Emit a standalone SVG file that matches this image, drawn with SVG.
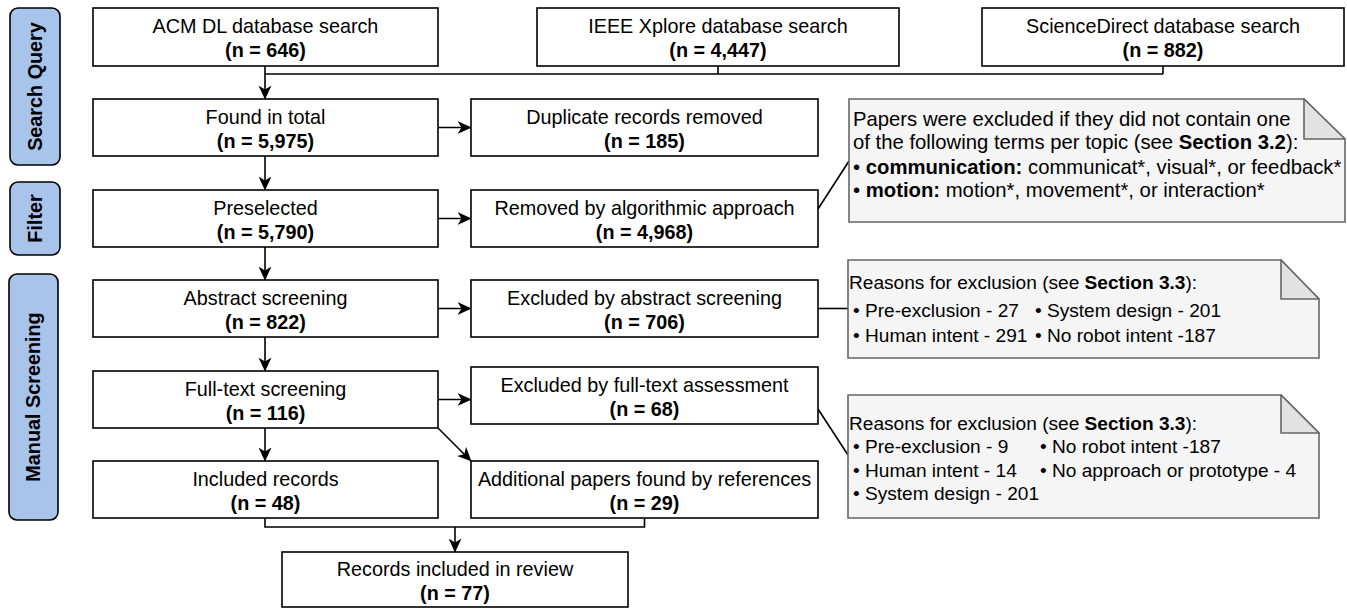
<svg xmlns="http://www.w3.org/2000/svg" width="1347" height="609" viewBox="0 0 1347 609">
<defs>
<style>
text{font-family:"Liberation Sans",Arial,Helvetica,sans-serif;font-size:19.8px;fill:#000}
.c{text-anchor:middle}
.b{font-weight:bold}
.n1{font-size:20.3px}
.n2{font-size:19.1px}
.box{fill:#fff;stroke:#000;stroke-width:1.6}
.lab{fill:#a9c4eb;stroke:#000;stroke-width:1.6}
.note{fill:#f5f5f5;stroke:#666;stroke-width:1.6}
.fold{fill:#e2e2e2;stroke:#666;stroke-width:1.6;stroke-linejoin:round}
.ln{fill:none;stroke:#000;stroke-width:1.6}
.arr{fill:none;stroke:#000;stroke-width:1.6;marker-end:url(#ah)}
</style>
<marker id="ah" viewBox="0 0 14 13" refX="13.5" refY="6.5" markerWidth="14" markerHeight="13" markerUnits="userSpaceOnUse" orient="auto">
<path d="M0,0 L14,6.5 L0,13 L4,6.5 Z" fill="#000"/>
</marker>
</defs>

<g id="label-search-query">
<rect class="lab" x="10" y="8" width="50" height="157" rx="8"/>
<text class="c b" transform="translate(42,86.5) rotate(-90)">Search Query</text>
</g>
<g id="label-filter">
<rect class="lab" x="10" y="182" width="50" height="73" rx="8"/>
<text class="c b" transform="translate(42,218.5) rotate(-90)">Filter</text>
</g>
<g id="label-manual-screening">
<rect class="lab" x="9" y="274" width="49" height="246" rx="8"/>
<text class="c b" transform="translate(40,397) rotate(-90)">Manual Screening</text>
</g>

<g id="connectors">
<path class="ln" d="M718,66 V74 M1163,66 V74 M265,74 H1163"/>
<path class="arr" d="M265,66 V99"/>
<path class="arr" d="M438,127.5 H471"/>
<path class="arr" d="M265,156 V190"/>
<path class="arr" d="M438,218.5 H471"/>
<path class="arr" d="M265,247 V280"/>
<path class="arr" d="M438,308.5 H471"/>
<path class="arr" d="M265,337 V371"/>
<path class="arr" d="M438,399.5 H471"/>
<path class="arr" d="M265,428 V461"/>
<path class="arr" d="M438,428 L471,461"/>
<path class="ln" d="M265,518 V527 H644.5 V518"/>
<path class="arr" d="M455,527 V552"/>
<path class="ln" d="M818,209 L849,161"/>
<path class="ln" d="M818,308.5 H848"/>
<path class="ln" d="M818,409 L848,455"/>
</g>

<g id="node-acm">
<rect class="box" x="93" y="8" width="345" height="58"/>
<text class="c" x="265.5" y="33">ACM DL database search</text>
<text class="c b" x="265.5" y="57">(n = 646)</text>
</g>
<g id="node-ieee">
<rect class="box" x="537" y="8" width="362" height="58"/>
<text class="c" x="718" y="33">IEEE Xplore database search</text>
<text class="c b" x="718" y="57">(n = 4,447)</text>
</g>
<g id="node-sciencedirect">
<rect class="box" x="982" y="8" width="362" height="58"/>
<text class="c" x="1163" y="33">ScienceDirect database search</text>
<text class="c b" x="1163" y="57">(n = 882)</text>
</g>

<g id="node-found">
<rect class="box" x="93" y="99" width="345" height="57"/>
<text class="c" x="265.5" y="123.5">Found in total</text>
<text class="c b" x="265.5" y="147.5">(n = 5,975)</text>
</g>
<g id="node-duplicate">
<rect class="box" x="471" y="99" width="347" height="57"/>
<text class="c" x="644.5" y="123.5">Duplicate records removed</text>
<text class="c b" x="644.5" y="147.5">(n = 185)</text>
</g>

<g id="node-preselected">
<rect class="box" x="93" y="190" width="345" height="57"/>
<text class="c" x="265.5" y="214.5">Preselected</text>
<text class="c b" x="265.5" y="238.5">(n = 5,790)</text>
</g>
<g id="node-removed">
<rect class="box" x="471" y="190" width="347" height="57"/>
<text class="c" x="644.5" y="214.5">Removed by algorithmic approach</text>
<text class="c b" x="644.5" y="238.5">(n = 4,968)</text>
</g>

<g id="node-abstract">
<rect class="box" x="93" y="280" width="345" height="57"/>
<text class="c" x="265.5" y="304.5">Abstract screening</text>
<text class="c b" x="265.5" y="328.5">(n = 822)</text>
</g>
<g id="node-excluded-abstract">
<rect class="box" x="471" y="280" width="347" height="57"/>
<text class="c" x="644.5" y="304.5">Excluded by abstract screening</text>
<text class="c b" x="644.5" y="328.5">(n = 706)</text>
</g>

<g id="node-fulltext">
<rect class="box" x="93" y="371" width="345" height="57"/>
<text class="c" x="265.5" y="395.5">Full-text screening</text>
<text class="c b" x="265.5" y="419.5">(n = 116)</text>
</g>
<g id="node-excluded-fulltext">
<rect class="box" x="471" y="367" width="347" height="57"/>
<text class="c" x="644.5" y="391.5">Excluded by full-text assessment</text>
<text class="c b" x="644.5" y="415.5">(n = 68)</text>
</g>

<g id="node-included">
<rect class="box" x="93" y="461" width="345" height="57"/>
<text class="c" x="265.5" y="485.5">Included records</text>
<text class="c b" x="265.5" y="509.5">(n = 48)</text>
</g>
<g id="node-additional">
<rect class="box" x="471" y="461" width="347" height="57"/>
<text class="c" x="644.5" y="485.5">Additional papers found by references</text>
<text class="c b" x="644.5" y="509.5">(n = 29)</text>
</g>

<g id="node-review">
<rect class="box" x="282" y="552" width="346" height="55"/>
<text class="c" x="455" y="575.5">Records included in review</text>
<text class="c b" x="455" y="599.5">(n = 77)</text>
</g>

<g id="note-filter">
<path class="note" d="M849,99 H1304 L1345,139 V222 H849 Z"/>
<path class="fold" d="M1304,99 V139 H1345 Z"/>
<text class="n1" x="853" y="126">Papers were excluded if they did not contain one</text>
<text class="n1" x="853" y="149">of the following terms per topic (see <tspan class="b">Section 3.2</tspan>):</text>
<text class="n1" x="853" y="174">• <tspan class="b">communication:</tspan> communicat*, visual*, or feedback*</text>
<text class="n1" x="853" y="197">• <tspan class="b">motion:</tspan> motion*, movement*, or interaction*</text>
</g>

<g id="note-abstract">
<path class="note" d="M848,260 H1281 L1319,299 V358 H848 Z"/>
<path class="fold" d="M1281,260 V299 H1319 Z"/>
<text class="n2" x="849" y="289">Reasons for exclusion (see <tspan class="b">Section 3.3</tspan>):</text>
<text class="n2" x="853" y="317">• Pre-exclusion - 27</text>
<text class="n2" x="1035" y="317">• System design - 201</text>
<text class="n2" x="853" y="342">• Human intent - 291</text>
<text class="n2" x="1035" y="342">• No robot intent -187</text>
</g>

<g id="note-fulltext">
<path class="note" d="M848,395 H1281 L1319,433 V518 H848 Z"/>
<path class="fold" d="M1281,395 V433 H1319 Z"/>
<text class="n2" x="849" y="430">Reasons for exclusion (see <tspan class="b">Section 3.3</tspan>):</text>
<text class="n2" x="853" y="453">• Pre-exclusion - 9</text>
<text class="n2" x="1040" y="453">• No robot intent -187</text>
<text class="n2" x="853" y="477">• Human intent - 14</text>
<text class="n2" x="1040" y="477">• No approach or prototype - 4</text>
<text class="n2" x="853" y="500">• System design - 201</text>
</g>
</svg>
